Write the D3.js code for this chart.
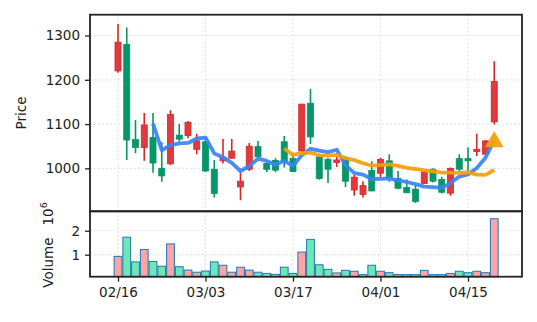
<!DOCTYPE html>
<html><head><meta charset="utf-8">
<script src="https://cdn.jsdelivr.net/npm/d3@7"></script>
<style>html,body{margin:0;padding:0;background:#fff;}svg{display:block;}</style>
</head><body>
<script>
// ---- data ----
const openP  = [1220,1280,1065,1047,1070,1000,1010,1075,1074,1043,1060,998,1017,1023,958,998,1049,1011,1018,1060,1022,1039,1147,1026,1020,1013,1022,951,941,995,989,1017,977,957,953,966,998,975,944,1022,1022,1038,1032,1105];
const highP  = [1326,1318,1109,1125,1125,1059,1131,1100,1107,1078,1071,1019,1066,1066,992,1057,1062,1015,1023,1073,1035,1146,1179,1030,1024,1026,1027,985,971,1016,1024,1032,994,975,962,994,1000,981,1002,1032,1047,1078,1064,1242];
const lowP   = [1216,1019,1034,1017,990,970,1008,1060,1068,1032,992,934,1011,1021,928,994,1025,992,991,1002,991,1037,1055,974,967,1003,958,938,934,948,980,970,953,944,922,965,968,943,938,994,992,1028,1030,1099];
const closeP = [1285,1064,1047,1098,1012,983,1122,1066,1104,1062,994,943,1023,1039,971,1050,1026,998,996,1015,993,1145,1071,977,998,1019,971,980,961,949,1020,977,955,945,925,992,971,946,1000,998,1017,1043,1062,1196];
const volume = [0.93,1.73,0.70,1.22,0.72,0.52,1.45,0.50,0.36,0.27,0.32,0.70,0.56,0.27,0.48,0.36,0.27,0.22,0.18,0.48,0.22,1.11,1.64,0.58,0.39,0.24,0.35,0.31,0.17,0.56,0.31,0.25,0.17,0.17,0.17,0.35,0.17,0.17,0.22,0.31,0.25,0.31,0.25,2.50]; // x 10^6
const maWindows = [5, 20];
const xTickIdx = [0, 10, 20, 30, 40];
const xTickLabels = ["02/16", "03/03", "03/17", "04/01", "04/15"];
const priceTicks = [1000, 1100, 1200, 1300];
const volTicks = [1, 2];
const markerIdx = [43];
const markerVal = [1060];

// ---- layout ----
const W = 537, H = 322;
const L = 90, R = 522, T = 14.7, MID = 211.3, B = 276.7;
const font = "DejaVu Sans, sans-serif";
const upC = "#e0393e", upEdge = "#d62728", dnC = "#059669";
const volUp = "#fca5a5", volDn = "#6ee7b7", volEdge = "#1f77b4";

const svg = d3.select("body").append("svg").attr("width", W).attr("height", H);

const x = d3.scaleLinear().domain([(L - 118) / 8.75, (R - 118) / 8.75]).range([L, R]);
const yP = d3.scaleLinear().domain([903, 1347]).range([MID, T]);
const yV = d3.scaleLinear().domain([0.083, 2.81]).range([B, MID]);
const step = x(1) - x(0);
const bodyW = step * 0.69;

const idx = closeP.map((_, i) => i);
const data = idx.map(i => ({i, o: openP[i], h: highP[i], l: lowP[i], c: closeP[i], v: volume[i], up: closeP[i] >= openP[i]}));

// grids
function grid(g, yScale, ticks, y0, y1) {
  g.selectAll(".gy").data(ticks).join("line")
    .attr("x1", L).attr("x2", R).attr("y1", d => yScale(d)).attr("y2", d => yScale(d))
    .attr("stroke", "#dcdcdc").attr("stroke-width", 1.2).attr("stroke-dasharray", "1.5,2.5");
  g.selectAll(".gx").data(xTickIdx).join("line").attr("class", "gx")
    .attr("x1", d => x(d)).attr("x2", d => x(d)).attr("y1", y0).attr("y2", y1)
    .attr("stroke", "#dcdcdc").attr("stroke-width", 1.2).attr("stroke-dasharray", "1.5,2.5");
}
const gp = svg.append("g"); grid(gp, yP, priceTicks, T, MID);
const gv = svg.append("g"); grid(gv, yV, volTicks, MID, B);

// clip
svg.append("clipPath").attr("id", "cp").append("rect").attr("x", L).attr("y", T).attr("width", R - L).attr("height", MID - T);

// candles
const cg = svg.append("g").attr("clip-path", "url(#cp)");
cg.selectAll(".wick").data(data).join("line")
  .attr("x1", d => x(d.i)).attr("x2", d => x(d.i))
  .attr("y1", d => yP(d.h)).attr("y2", d => yP(d.l))
  .attr("stroke", d => d.up ? upEdge : dnC).attr("stroke-width", 1.6);
cg.selectAll(".body").data(data).join("rect")
  .attr("x", d => x(d.i) - bodyW / 2).attr("width", bodyW)
  .attr("y", d => yP(Math.max(d.o, d.c)))
  .attr("height", d => Math.max(1, Math.abs(yP(d.o) - yP(d.c))))
  .attr("fill", d => d.up ? upC : dnC)
  .attr("stroke", d => d.up ? upEdge : dnC).attr("stroke-width", 0.8);

// moving averages
const maColors = ["#3b82f6", "#f59e0b"];
maWindows.forEach((w, k) => {
  const pts = [];
  for (let i = w - 1; i < closeP.length; i++) pts.push([i, d3.mean(closeP.slice(i - w + 1, i + 1))]);
  cg.append("path").datum(pts)
    .attr("d", d3.line().x(d => x(d[0])).y(d => yP(d[1])))
    .attr("fill", "none").attr("stroke", maColors[k]).attr("stroke-width", 3.8)
    .attr("stroke-opacity", 0.92).attr("stroke-linejoin", "round");
});

// marker
cg.selectAll(".mk").data(markerIdx).join("path")
  .attr("transform", (d, j) => `translate(${x(d)},${yP(markerVal[j])})`)
  .attr("d", d3.symbol().type(d3.symbolTriangle).size(150))
  .attr("fill", "#f59e0b").attr("fill-opacity", 0.95);

// volume bars
svg.append("g").selectAll("rect").data(data).join("rect")
  .attr("x", d => x(d.i) - step / 2 + 0.5).attr("width", step - 1)
  .attr("y", d => yV(d.v)).attr("height", d => B - yV(d.v))
  .attr("fill", d => d.up ? volUp : volDn)
  .attr("stroke", volEdge).attr("stroke-width", 1);

// spines
const sp = svg.append("g").attr("fill", "none").attr("stroke", "#222").attr("stroke-width", 1.8);
sp.append("rect").attr("x", L).attr("y", T).attr("width", R - L).attr("height", MID - T);
sp.append("rect").attr("x", L).attr("y", MID).attr("width", R - L).attr("height", B - MID);

// axes
function styleAxis(g) {
  g.select(".domain").remove();
  g.selectAll(".tick line").attr("stroke", "#222").attr("stroke-width", 1.3);
  g.selectAll(".tick text").attr("fill", "#222").style("font-family", font).style("font-size", "13.5px");
}
svg.append("g").attr("transform", `translate(${L},0)`)
  .call(d3.axisLeft(yP).tickValues(priceTicks).tickSize(5).tickPadding(5).tickFormat(d3.format("d")))
  .call(styleAxis);
svg.append("g").attr("transform", `translate(${L},0)`)
  .call(d3.axisLeft(yV).tickValues(volTicks).tickSize(5).tickPadding(5).tickFormat(d3.format("d")))
  .call(styleAxis);
svg.append("g").attr("transform", `translate(0,${B})`)
  .call(d3.axisBottom(x).tickValues(xTickIdx).tickSize(5).tickPadding(6).tickFormat((d, j) => xTickLabels[j]))
  .call(styleAxis);

// axis labels
svg.append("text").attr("transform", `translate(26,${(T + MID) / 2}) rotate(-90)`)
  .attr("text-anchor", "middle").style("font-family", font).style("font-size", "13.5px").attr("fill", "#222")
  .text("Price");
const vl = svg.append("text").attr("transform", `translate(53,${(MID + B) / 2 + 1}) rotate(-90)`)
  .attr("text-anchor", "middle").style("font-family", font).style("font-size", "13.5px").attr("fill", "#222");
vl.append("tspan").text("Volume");
vl.append("tspan").attr("dx", 12).text("10");
vl.append("tspan").attr("dy", -6).style("font-size", "9.5px").text("6");
</script>
</body></html>
